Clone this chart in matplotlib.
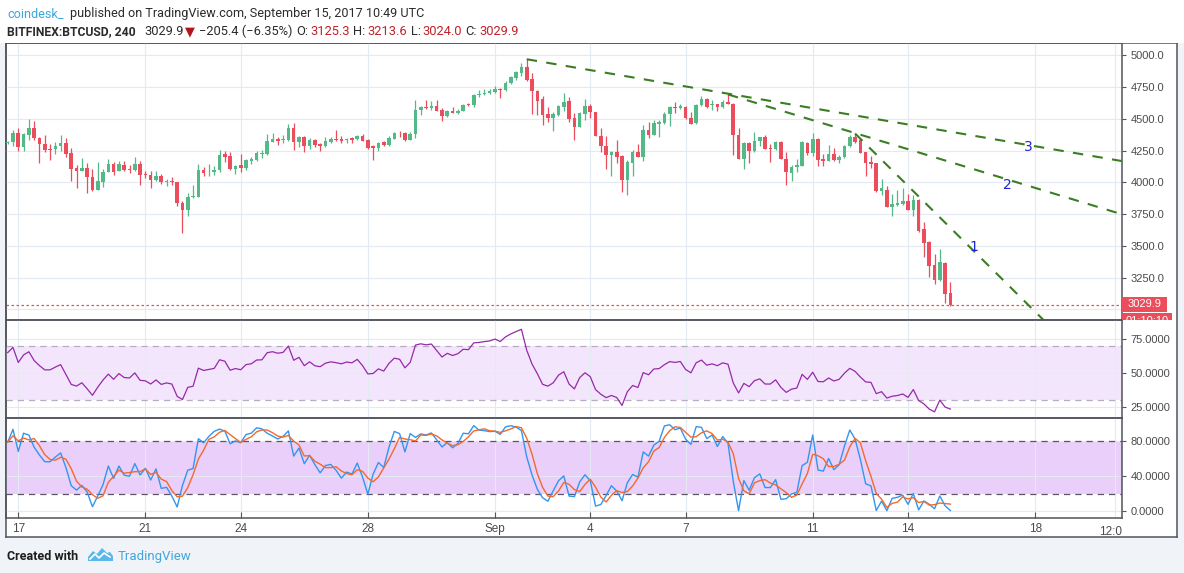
import matplotlib
matplotlib.use("Agg")
import matplotlib.pyplot as plt
from matplotlib.patches import Rectangle, Polygon
import numpy as np
import pandas as pd

# 4h candles BITFINEX:BTCUSD, Aug 16 16:00 .. Sep 15 08:00
opens = [4308, 4316, 4390, 4277, 4371, 4424, 4348, 4305, 4263, 4261, 4287, 4313, 4227, 4116, 4087, 4116,
         4045, 3942, 4005, 4084, 4148, 4087, 4140, 4108, 4095, 4148, 4066, 4061, 4016, 4053, 4000, 4013,
         4005, 3840, 3779, 3884, 3887, 4093, 4080, 4080, 4093, 4221, 4205, 4104, 4133, 4112, 4167, 4173,
         4226, 4223, 4319, 4338, 4330, 4332, 4425, 4319, 4356, 4284, 4330, 4298, 4287, 4319, 4340, 4338,
         4332, 4348, 4343, 4364, 4332, 4282, 4271, 4316, 4295, 4343, 4390, 4387, 4335, 4377, 4571, 4592,
         4586, 4599, 4568, 4521, 4560, 4544, 4560, 4618, 4610, 4691, 4696, 4704, 4712, 4738, 4728, 4780,
         4822, 4859, 4906, 4812, 4717, 4652, 4534, 4508, 4529, 4594, 4639, 4508, 4437, 4539, 4600, 4553,
         4368, 4289, 4218, 4237, 4205, 4016, 4153, 4237, 4200, 4410, 4374, 4463, 4468, 4534, 4592, 4587,
         4595, 4508, 4466, 4605, 4653, 4605, 4613, 4592, 4632, 4618, 4376, 4184, 4310, 4245, 4329, 4355,
         4268, 4263, 4316, 4187, 4074, 4124, 4131, 4311, 4232, 4342, 4182, 4171, 4226, 4179, 4197, 4284,
         4358, 4337, 4237, 4158, 4153, 3934, 3942, 3805, 3821, 3832, 3850, 3781, 3863, 3629, 3526, 3347,
         3229, 3368, 3125.3]
highs = [4329, 4408, 4429, 4390, 4495, 4479, 4355, 4369, 4303, 4321, 4369, 4345, 4271, 4140, 4195, 4150,
         4105, 4163, 4103, 4187, 4161, 4171, 4166, 4140, 4203, 4166, 4092, 4087, 4092, 4069, 4026, 4045,
         4005, 3850, 3916, 3979, 4145, 4117, 4144, 4125, 4253, 4250, 4237, 4138, 4221, 4183, 4197, 4250,
         4253, 4378, 4385, 4359, 4372, 4457, 4468, 4364, 4364, 4351, 4338, 4306, 4356, 4356, 4412, 4364,
         4351, 4354, 4370, 4380, 4338, 4290, 4319, 4324, 4364, 4396, 4403, 4393, 4395, 4647, 4600, 4647,
         4639, 4647, 4586, 4573, 4592, 4581, 4620, 4626, 4699, 4725, 4738, 4738, 4762, 4743, 4796, 4835,
         4880, 4937, 4969, 4859, 4725, 4678, 4592, 4552, 4612, 4701, 4670, 4544, 4550, 4652, 4618, 4555,
         4429, 4363, 4245, 4337, 4213, 4174, 4258, 4303, 4455, 4474, 4490, 4490, 4555, 4600, 4632, 4613,
         4603, 4553, 4618, 4679, 4666, 4645, 4618, 4645, 4692, 4624, 4429, 4316, 4316, 4395, 4360, 4376,
         4303, 4324, 4324, 4237, 4139, 4184, 4324, 4316, 4387, 4345, 4226, 4292, 4271, 4218, 4297, 4376,
         4384, 4350, 4239, 4210, 4155, 4029, 3974, 3910, 3942, 3955, 3908, 3897, 3868, 3687, 3534, 3434,
         3474, 3376, 3213.6]
lows = [4303, 4284, 4250, 4250, 4337, 4337, 4155, 4237, 4179, 4224, 4245, 4198, 4008, 3958, 4087, 3913,
        3929, 3942, 3966, 4079, 4055, 4087, 4087, 4071, 4087, 3982, 4034, 3958, 4011, 3987, 3974, 3982,
        3816, 3603, 3737, 3876, 3882, 4050, 4053, 4058, 4085, 4157, 4098, 4066, 4085, 4098, 4146, 4167,
        4189, 4213, 4316, 4295, 4306, 4324, 4253, 4279, 4237, 4263, 4279, 4245, 4279, 4311, 4324, 4306,
        4311, 4311, 4332, 4322, 4266, 4173, 4245, 4284, 4284, 4338, 4356, 4325, 4330, 4345, 4529, 4581,
        4568, 4560, 4482, 4513, 4542, 4539, 4558, 4597, 4594, 4670, 4686, 4699, 4707, 4665, 4722, 4775,
        4809, 4835, 4801, 4539, 4529, 4450, 4476, 4403, 4521, 4560, 4476, 4332, 4434, 4490, 4503, 4363,
        4237, 4105, 4047, 4153, 3924, 3902, 4047, 4197, 4166, 4345, 4371, 4358, 4463, 4447, 4547, 4574,
        4500, 4458, 4463, 4600, 4587, 4566, 4561, 4587, 4613, 4213, 4182, 4105, 4153, 4242, 4284, 4260,
        4158, 4253, 4182, 3982, 4008, 4082, 4129, 4218, 4210, 4131, 4131, 4171, 4171, 4153, 4192, 4279,
        4313, 4229, 4047, 4113, 3926, 3897, 3803, 3731, 3810, 3824, 3781, 3731, 3608, 3408, 3258, 3202,
        3223, 3052, 3024.0]
closes = [4321, 4390, 4277, 4377, 4424, 4348, 4300, 4258, 4258, 4287, 4313, 4221, 4108, 4087, 4116, 4040,
          3942, 4013, 4084, 4148, 4084, 4148, 4100, 4095, 4148, 4061, 4055, 4016, 4053, 4000, 4013, 4000,
          3834, 3779, 3884, 3895, 4100, 4072, 4085, 4098, 4213, 4199, 4104, 4125, 4112, 4173, 4183, 4229,
          4231, 4324, 4338, 4327, 4338, 4425, 4319, 4356, 4284, 4330, 4295, 4287, 4324, 4338, 4332, 4324,
          4340, 4335, 4364, 4327, 4271, 4274, 4306, 4292, 4348, 4391, 4385, 4335, 4377, 4573, 4592, 4586,
          4597, 4560, 4521, 4560, 4547, 4565, 4612, 4610, 4691, 4696, 4707, 4715, 4738, 4728, 4785, 4827,
          4866, 4906, 4806, 4717, 4639, 4529, 4508, 4534, 4599, 4631, 4500, 4437, 4544, 4597, 4553, 4368,
          4284, 4216, 4237, 4197, 4016, 4161, 4237, 4200, 4410, 4374, 4468, 4474, 4539, 4592, 4582, 4597,
          4503, 4460, 4608, 4653, 4592, 4613, 4592, 4632, 4618, 4376, 4184, 4310, 4245, 4329, 4355, 4263,
          4263, 4316, 4184, 4082, 4121, 4134, 4316, 4232, 4342, 4176, 4171, 4226, 4174, 4197, 4284, 4358,
          4316, 4232, 4153, 4145, 3929, 3953, 3805, 3826, 3834, 3850, 3781, 3863, 3618, 3521, 3342, 3229,
          3376, 3118, 3029.9]

day_ticks = [2, 26, 44, 68, 92, 110, 128, 152, 170, 194]
day_labels = ["17", "21", "24", "28", "Sep", "4", "7", "11", "14", "18"]
price_ticks = [3250, 3500, 3750, 4000, 4250, 4500, 4750, 5000]
rsi_ticks = [25, 50, 75]
stoch_ticks = [0, 40, 80]
last_price = 3029.9

# trend lines: (candle index, price) pairs
trend_lines = {
    "3": [(98, 4969), (210.4, 4167)],
    "2": [(136, 4692), (210.4, 3748)],
    "1": [(160, 4384), (182.1, 3472)],
}
trend_labels = {"3": (192.7, 4278), "2": (188.7, 3979), "1": (182.5, 3490)}

RSI_LEN = 14
RSI_SEED = (28.0, 15.0)       # avg gain / avg loss before the first visible candle
STOCH_LEN, D_SMOOTH = 14, 3
STOCH_PRIOR = (4420, 3950)    # high / low of the candles just before the visible window

n = len(closes)
idx = np.arange(n)
o = np.array(opens, float)
h = np.array(highs, float)
l = np.array(lows, float)
c = np.array(closes, float)

# RSI (Wilder)
ag, al = RSI_SEED
rsi = np.empty(n)
rsi[0] = 100 - 100 / (1 + ag / al)
for i in range(1, n):
    d = c[i] - c[i - 1]
    ag = (ag * (RSI_LEN - 1) + max(d, 0)) / RSI_LEN
    al = (al * (RSI_LEN - 1) + max(-d, 0)) / RSI_LEN
    rsi[i] = 100 - 100 / (1 + ag / al)

# Stochastic %K 14, %D 3
hh = pd.Series(h).rolling(STOCH_LEN, min_periods=1).max().values
ll = pd.Series(l).rolling(STOCH_LEN, min_periods=1).min().values
for i in range(STOCH_LEN - 1):
    hh[i] = max(hh[i], STOCH_PRIOR[0])
    ll[i] = min(ll[i], STOCH_PRIOR[1])
k = pd.Series(100 * (c - ll) / (hh - ll))
dline = k.rolling(D_SMOOTH, min_periods=1).mean()

W, H = 1184, 573
fig = plt.figure(figsize=(W / 100, H / 100), dpi=100, facecolor="#f0f3f7")

def fy(py):
    return 1 - py / H

def axes_px(x0, y0, x1, y1):
    return fig.add_axes([x0 / W, fy(y1), (x1 - x0) / W, (y1 - y0) / H])

BORDER = "#50535a"
GRID = "#e3eaf1"
TXT = "#4b4b4b"
GREEN = "#53b987"
RED = "#eb4d5c"

fig.patches.append(Rectangle((0, fy(43)), 1, 43 / H, transform=fig.transFigure,
                             facecolor="white", edgecolor="none", zorder=0))

frame = axes_px(6, 43, 1177, 536.5)
frame.set_xticks([]); frame.set_yticks([])
frame.set_facecolor("white")
for s in frame.spines.values():
    s.set_color(BORDER); s.set_linewidth(1.1)

ax_p = axes_px(6, 43, 1122, 320)
ax_r = axes_px(6, 320, 1122, 418)
ax_s = axes_px(6, 418, 1122, 517.5)

xlo, xhi = -0.32, 210.4
grid_x = day_ticks + [209.1]
for ax, ticks, lim, fmt in [(ax_p, price_ticks, (2915.7, 5096.9), "{:.1f}"),
                            (ax_r, rsi_ticks, (16.6, 89.3), "{:.4f}"),
                            (ax_s, stoch_ticks, (-7.4, 106.6), "{:.4f}")]:
    ax.set_xlim(xlo, xhi)
    ax.set_ylim(*lim)
    ax.set_facecolor("none")
    for s in ax.spines.values():
        s.set_color(BORDER); s.set_linewidth(1.1)
    ax.yaxis.tick_right()
    ax.set_yticks(ticks)
    ax.set_yticklabels([fmt.format(t) for t in ticks])
    ax.tick_params(axis="y", direction="out", length=3, width=0.8, color="#555",
                   labelsize=8, labelcolor=TXT, pad=3)
    for t in ax.get_yticklabels():
        t.set_fontfamily("Liberation Sans")
    for gx in grid_x:
        ax.axvline(gx, color=GRID, lw=0.8, zorder=1)
    for gy in ticks:
        ax.axhline(gy, color=GRID, lw=0.8, zorder=1)

ax_p.axhline(3000, color=GRID, lw=0.8, zorder=1)
for ax in (ax_p, ax_r):
    ax.set_xticks([])

ax_s.set_xticks(day_ticks)
ax_s.set_xticklabels(day_labels)
ax_s.tick_params(axis="x", direction="in", length=4, width=0.8, color="#555",
                 labelsize=8.5, labelcolor=TXT, pad=4)
for t in ax_s.get_xticklabels():
    t.set_fontfamily("Liberation Sans")
ax_s.text(208.2, -0.09, "12:0", transform=ax_s.get_xaxis_transform(), ha="center", va="top",
          fontsize=8.5, color=TXT, family="Liberation Sans")

# candles
up = c >= o
cols = np.where(up, GREEN, RED)
ax_p.vlines(idx, l, h, colors=cols, lw=0.9, zorder=3)
body_lo = np.minimum(o, c)
body_h = np.maximum(np.abs(c - o), 5)
ax_p.bar(idx, body_h, bottom=body_lo, width=0.68, color=cols, linewidth=0, zorder=4)

# last price line
ax_p.axhline(last_price, color="#e8505b", lw=0.9, ls=(0, (2, 2)), zorder=2)

# trend lines
for name, pts in trend_lines.items():
    (x0, y0), (x1, y1) = pts
    if name == "1":
        slope = (y1 - y0) / (x1 - x0)
        x1 = 200
        y1 = y0 + slope * (x1 - x0)
    ax_p.plot([x0, x1], [y0, y1], color="#3a7d23", lw=1.5, dashes=(5, 4.5), zorder=5)
    lx, ly = trend_labels[name]
    ax_p.text(lx, ly, name, color="#1e22d8", fontsize=10, ha="center", va="center", zorder=6)

# RSI panel
ax_r.axhspan(30, 70, color="#f3e6fc", lw=0, zorder=0)
for lv in (30, 70):
    ax_r.axhline(lv, color="#b9aac3", lw=0.9, ls=(0, (5, 4)), zorder=2)
ax_r.plot(idx, rsi, color="#9629a9", lw=0.9, zorder=3)

# Stoch panel
ax_s.axhspan(20, 80, color="#e9cffa", lw=0, zorder=0)
for lv in (20, 80):
    ax_s.axhline(lv, color="#5e5468", lw=0.9, ls=(0, (5, 4)), zorder=2)
ax_s.plot(idx, k, color="#3396ee", lw=1.0, zorder=3)
ax_s.plot(idx, dline, color="#f26a2e", lw=1.0, zorder=4)

# price label boxes on the axis
fig.patches.append(Rectangle((1122 / W, fy(311.5)), 45 / W, 15 / H, transform=fig.transFigure,
                             facecolor="#eb4d5c", edgecolor="none", zorder=5))
fig.text(1144.5 / W, fy(304), f"{last_price:.1f}", color="white", fontsize=8, ha="center",
         va="center", family="Liberation Sans", zorder=6)
clip_box = Rectangle((1122 / W, fy(320)), 50 / W, 7 / H, transform=fig.transFigure,
                     facecolor="#eb4d5c", edgecolor="none", zorder=5)
fig.patches.append(clip_box)
t_cd = fig.text(1147 / W, fy(320.5), "01:10:10", color="white", fontsize=8, ha="center",
                va="center", family="Liberation Sans", zorder=6)
t_cd.set_clip_path(clip_box)

# header
renderer = fig.canvas.get_renderer()
HFONT = ["Roboto", "DejaVu Sans"]

def write_line(y, pieces):
    end = 0
    for x, s, col, wt, size in pieces:
        x = max(x, end + 1.5)
        t = fig.text(x / W, fy(y), s, color=col, fontsize=size, fontweight=wt,
                     family=HFONT, va="baseline", ha="left")
        end = t.get_window_extent(renderer).x1

DARK = "#2b2b2b"
HRED = "#c0222a"
write_line(17, [(7, "coindesk_", "#3aa8dd", "normal", 9.1),
                (70, "published on TradingView.com, September 15, 2017 10:49 UTC", DARK, "normal", 9.1)])
write_line(35, [(7, "BITFINEX:BTCUSD, 240", DARK, "bold", 8.7),
                (144, "3029.9", DARK, "normal", 9.3), (183, "\u25bc", "#b0151c", "normal", 9.3),
                (199, "\u2212205.4 (\u22126.35%)", DARK, "normal", 9.3),
                (296, "O:", DARK, "normal", 9.3), (310, "3125.3", HRED, "normal", 9.3),
                (353, "H:", DARK, "normal", 9.3), (367, "3213.6", HRED, "normal", 9.3),
                (411, "L:", DARK, "normal", 9.3), (422, "3024.0", HRED, "normal", 9.3),
                (465, "C:", DARK, "normal", 9.3), (479, "3029.9", HRED, "normal", 9.3)])

# footer
fig.text(7 / W, fy(560), "Created with", color="#1e1e1e", fontsize=9, fontweight="bold",
         family=HFONT, va="baseline")
logo = [(88, 561), (88, 557), (93, 551), (97, 554), (102, 548), (107, 553), (110, 552),
        (113, 556), (113, 561)]
fig.patches.append(Polygon([(x / W, fy(y)) for x, y in logo], closed=True,
                           transform=fig.transFigure, facecolor="#5ab8e8", edgecolor="none"))
fig.lines.append(plt.Line2D([90 / W, 95 / W, 99 / W, 104 / W, 110 / W],
                            [fy(559), fy(554), fy(558), fy(553), fy(557)],
                            transform=fig.transFigure, color="white", lw=1.2))
fig.text(118 / W, fy(560), "TradingView", color="#41a6dd", fontsize=9.5, family=HFONT,
         va="baseline")

fig.savefig("out.png", dpi=100, facecolor=fig.get_facecolor())
